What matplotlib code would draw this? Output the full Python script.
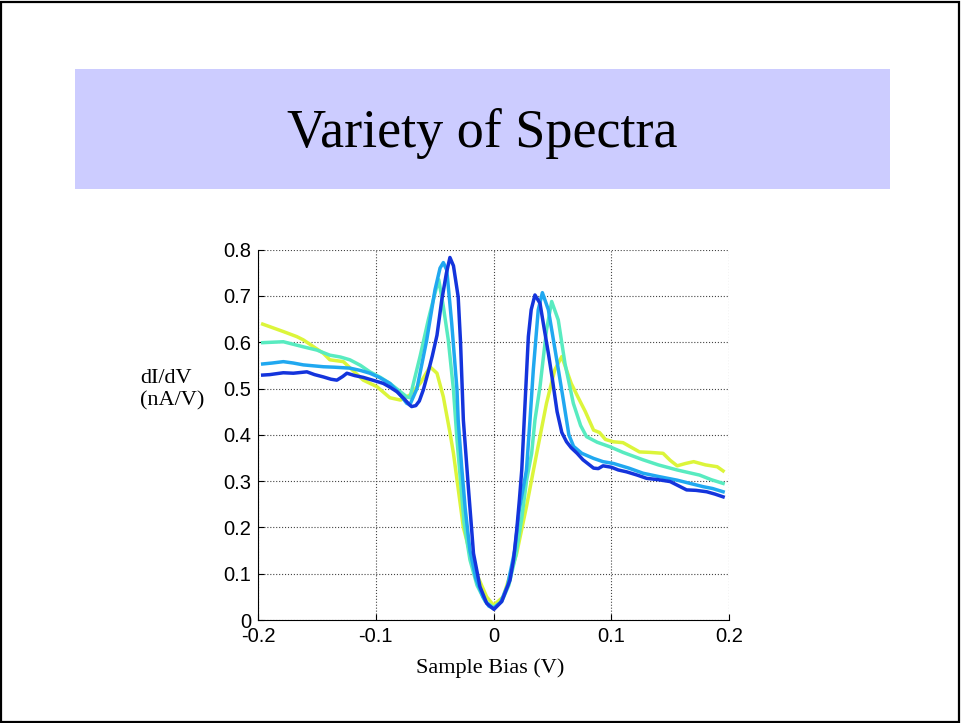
import matplotlib
matplotlib.use('Agg')
import matplotlib.pyplot as plt
from matplotlib.patches import Rectangle

# Spectra (bias in V, dI/dV in nA/V)
yellow_x = [-0.196, -0.1785, -0.167, -0.1615, -0.1445, -0.139, -0.1275, -0.1106, -0.099,
            -0.088, -0.079, -0.071, -0.062, -0.054, -0.048, -0.0426, -0.037, -0.034,
            -0.0256, -0.017, -0.0058, 0.0, 0.0083, 0.0197, 0.028, 0.0367, 0.045, 0.052,
            0.058, 0.062, 0.066, 0.072, 0.078, 0.085, 0.090, 0.095, 0.1015, 0.110, 0.124,
            0.133, 0.144, 0.150, 0.156, 0.163, 0.170, 0.180, 0.190, 0.195]
yellow_y = [0.639, 0.623, 0.612, 0.605, 0.576, 0.562, 0.558, 0.518, 0.504,
            0.480, 0.475, 0.486, 0.512, 0.547, 0.533, 0.482, 0.405, 0.360,
            0.200, 0.115, 0.050, 0.032, 0.050, 0.144, 0.245, 0.360, 0.468, 0.540,
            0.569, 0.540, 0.511, 0.480, 0.450, 0.410, 0.405, 0.390, 0.385, 0.383, 0.363,
            0.362, 0.360, 0.345, 0.333, 0.338, 0.342, 0.335, 0.331, 0.322]

aqua_x = [-0.196, -0.1785, -0.1615, -0.150, -0.139, -0.130, -0.122, -0.113, -0.105,
          -0.096, -0.088, -0.080, -0.0737, -0.071, -0.0624, -0.0554, -0.0497, -0.0465,
          -0.0426, -0.0384, -0.034, -0.031, -0.028, -0.025, -0.020, -0.014, -0.007, 0.0,
          0.007, 0.013, 0.019, 0.024, 0.028, 0.0324, 0.0352, 0.0395, 0.045, 0.0494,
          0.055, 0.0607, 0.0678, 0.074, 0.079, 0.088, 0.099, 0.110, 0.127, 0.140,
          0.156, 0.175, 0.185, 0.195]
aqua_y = [0.599, 0.601, 0.590, 0.583, 0.572, 0.568, 0.562, 0.550, 0.536,
          0.524, 0.511, 0.495, 0.482, 0.480, 0.569, 0.648, 0.706, 0.735,
          0.677, 0.605, 0.497, 0.389, 0.300, 0.210, 0.130, 0.075, 0.040, 0.027,
          0.040, 0.075, 0.140, 0.220, 0.300, 0.360, 0.432, 0.504, 0.626, 0.688,
          0.648, 0.554, 0.468, 0.420, 0.396, 0.384, 0.374, 0.362, 0.346, 0.335,
          0.324, 0.313, 0.303, 0.295]

light_x = [-0.196, -0.188, -0.1785, -0.170, -0.1615, -0.153, -0.1445, -0.135, -0.122,
           -0.113, -0.105, -0.097, -0.088, -0.081, -0.0737, -0.071, -0.065, -0.0567,
           -0.0497, -0.0454, -0.0426, -0.0397, -0.0355, -0.031, -0.030, -0.027, -0.024,
           -0.020, -0.015, -0.009, -0.004, 0.0, 0.006, 0.012, 0.018, 0.022, 0.028, 0.031,
           0.0338, 0.038, 0.0415, 0.0466, 0.0537, 0.059, 0.064, 0.068, 0.075, 0.085,
           0.093, 0.102, 0.115, 0.127, 0.140, 0.156, 0.167, 0.178, 0.186, 0.195]
light_y = [0.553, 0.555, 0.558, 0.555, 0.551, 0.549, 0.547, 0.546, 0.544,
           0.539, 0.533, 0.524, 0.511, 0.492, 0.468, 0.465, 0.500, 0.605,
           0.713, 0.760, 0.772, 0.756, 0.641, 0.497, 0.432, 0.330, 0.240,
           0.150, 0.090, 0.050, 0.030, 0.025, 0.038, 0.075, 0.150, 0.240, 0.324, 0.432,
           0.540, 0.670, 0.707, 0.670, 0.562, 0.480, 0.400, 0.375, 0.360, 0.349,
           0.342, 0.338, 0.328, 0.317, 0.310, 0.302, 0.295, 0.288, 0.284, 0.277]

blue_x = [-0.196, -0.190, -0.1785, -0.170, -0.1585, -0.152, -0.1445, -0.138, -0.133,
          -0.128, -0.1245, -0.118, -0.1106, -0.100, -0.0936, -0.088, -0.082, -0.076,
          -0.071, -0.0695, -0.066, -0.063, -0.0596, -0.055, -0.052, -0.048, -0.044,
          -0.040, -0.037, -0.034, -0.030, -0.028, -0.0256, -0.0235, -0.0214, -0.019,
          -0.017, -0.0115, -0.0058, 0.0004, 0.007, 0.014, 0.017, 0.0197, 0.022, 0.024,
          0.0268, 0.0296, 0.032, 0.0352, 0.0395, 0.043, 0.0466, 0.050, 0.054, 0.058,
          0.062, 0.066, 0.071, 0.076, 0.085, 0.089, 0.093, 0.100, 0.106, 0.113, 0.122,
          0.130, 0.140, 0.150, 0.157, 0.164, 0.172, 0.181, 0.188, 0.195]
blue_y = [0.529, 0.530, 0.534, 0.533, 0.536, 0.530, 0.525, 0.520, 0.518,
          0.526, 0.533, 0.528, 0.524, 0.516, 0.511, 0.503, 0.493, 0.478,
          0.464, 0.461, 0.463, 0.473, 0.497, 0.540, 0.570, 0.615, 0.690,
          0.749, 0.783, 0.765, 0.698, 0.600, 0.432, 0.360, 0.288, 0.210,
          0.144, 0.072, 0.036, 0.023, 0.040, 0.086, 0.130, 0.194, 0.260, 0.324,
          0.468, 0.612, 0.670, 0.702, 0.684, 0.630, 0.576, 0.520, 0.450, 0.405,
          0.385, 0.372, 0.360, 0.346, 0.328, 0.327, 0.333, 0.330, 0.324, 0.320, 0.313,
          0.306, 0.303, 0.299, 0.290, 0.281, 0.280, 0.277, 0.272, 0.266]

series = [
    (yellow_x, yellow_y, '#dcf53a'),
    (aqua_x, aqua_y, '#58ebc0'),
    (light_x, light_y, '#20a8f0'),
    (blue_x, blue_y, '#1434dc'),
]

x_ticks = [-0.2, -0.1, 0, 0.1, 0.2]
x_tick_labels = ['-0.2', '-0.1', '0', '0.1', '0.2']
y_ticks = [0, 0.1, 0.2, 0.3, 0.4, 0.5, 0.6, 0.7, 0.8]
y_tick_labels = ['0', '0.1', '0.2', '0.3', '0.4', '0.5', '0.6', '0.7', '0.8']

slide_title = 'Variety of Spectra'
x_label = 'Sample Bias (V)'
y_label = 'dI/dV\n(nA/V)'


def main():
    W, H = 961, 723
    figure = plt.figure(figsize=(W / 100, H / 100), dpi=100)
    figure.patch.set_facecolor('white')

    # slide frame and title band
    figure.patches.append(Rectangle((1 / W, 1 / H), (W - 3) / W, (H - 3) / H,
                                    transform=figure.transFigure, fill=False,
                                    edgecolor='black', linewidth=1.6))
    figure.patches.append(Rectangle((75 / W, (H - 189) / H), 815 / W, 120 / H,
                                    transform=figure.transFigure, facecolor='#ccccff',
                                    edgecolor='none'))
    figure.text(482 / W, (H - 147) / H, slide_title, ha='center', va='baseline',
                fontsize=39, family='Liberation Serif')

    axis = figure.add_axes([258 / W, (H - 620) / H, 471 / W, 370.4 / H])
    for xs, ys, color in series:
        axis.plot(xs, ys, color=color, linewidth=2.5)

    axis.set_xlim(-0.2, 0.2)
    axis.set_ylim(0, 0.8)
    axis.set_xticks(x_ticks)
    axis.set_xticklabels(x_tick_labels)
    axis.set_yticks(y_ticks)
    axis.set_yticklabels(y_tick_labels)
    axis.grid(True, linestyle=':', color='#444444', linewidth=0.8)
    axis.tick_params(direction='in', length=4, width=0.8, labelsize=14.5, pad=5)
    for label in axis.get_xticklabels() + axis.get_yticklabels():
        label.set_family('Liberation Sans')
    axis.spines['top'].set_visible(False)
    axis.spines['right'].set_visible(False)
    axis.spines['left'].set_linewidth(0.8)
    axis.spines['bottom'].set_linewidth(0.8)

    figure.text(490 / W, (H - 668) / H, x_label, ha='center', va='center',
                fontsize=16, family='Liberation Serif')
    figure.text(140 / W, (H - 390) / H, y_label, ha='left', va='center',
                fontsize=16, family='Liberation Serif', linespacing=1.25)

    figure.savefig('out.png', dpi=100)


if __name__ == '__main__':
    main()
